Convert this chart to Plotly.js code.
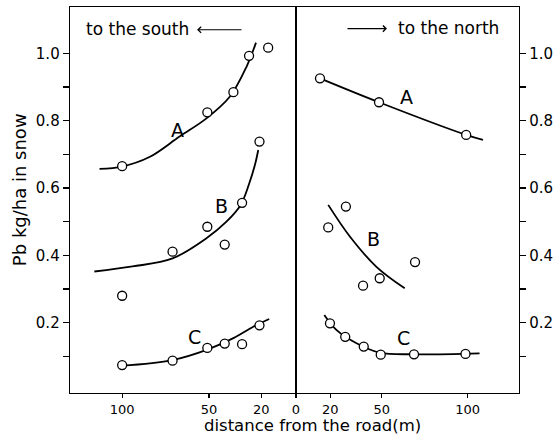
<!DOCTYPE html>
<html><head><meta charset="utf-8">
<script src="https://cdn.plot.ly/plotly-3.0.1.min.js"></script>
<style>html,body{margin:0;padding:0;background:#fff}#chart{width:554px;height:438px}</style>
</head><body><div id="chart"></div>
<script>
// ---- South side (left panel), distance in m, Pb kg/ha ----
const southA_x = [100, 51, 36, 27, 16];
const southA_y = [0.665, 0.825, 0.885, 0.993, 1.017];
const southA_fitX = [113, 100, 84, 67, 51.5, 38, 28.4, 23];
const southA_fitY = [0.657, 0.664, 0.693, 0.753, 0.807, 0.872, 0.961, 1.032];

const southB_x = [100, 71, 51, 41, 31, 21];
const southB_y = [0.280, 0.411, 0.485, 0.432, 0.556, 0.738];
const southB_fitX = [116, 94, 71, 51.5, 40, 32, 27, 23.6, 21.7];
const southB_fitY = [0.352, 0.367, 0.391, 0.451, 0.500, 0.548, 0.612, 0.669, 0.713];

const southC_x = [100, 71, 51, 41, 31, 21];
const southC_y = [0.074, 0.087, 0.125, 0.138, 0.136, 0.192];
const southC_fitX = [100.5, 71, 51, 36, 24.6, 15.4];
const southC_fitY = [0.072, 0.089, 0.120, 0.154, 0.188, 0.211];

// ---- North side (right panel) ----
const northA_x = [14, 48.4, 99.2];
const northA_y = [0.926, 0.855, 0.758];
const northA_fitX = [14, 48.4, 99.2, 109];
const northA_fitY = [0.926, 0.855, 0.758, 0.743];

const northB_x = [18.8, 29.1, 39.1, 48.8, 69.4];
const northB_y = [0.483, 0.545, 0.310, 0.332, 0.380];
const northB_fitX = [18.8, 31.4, 46.9, 63.4];
const northB_fitY = [0.550, 0.456, 0.366, 0.302];

const northC_x = [19.8, 28.7, 39.5, 49.4, 68.8, 98.8];
const northC_y = [0.198, 0.158, 0.129, 0.105, 0.106, 0.107];
const northC_fitX = [16.5, 23.7, 35.3, 48.8, 68.8, 107];
const northC_fitY = [0.223, 0.178, 0.139, 0.111, 0.106, 0.109];

// ---- Tick labels and texts ----
const southTicks = [100, 50, 20];
const northTicks = [0, 20, 50, 100];
const yTickVals = [0.2, 0.4, 0.6, 0.8, 1.0];
const yTickText = ['0.2', '0.4', '0.6', '0.8', '1.0'];
const yMinorVals = [0.1, 0.3, 0.5, 0.7, 0.9];
const curveLabels = ['A', 'B', 'C'];
const southLabelX = [68, 42.8, 58.2];
const southLabelY = [0.773, 0.547, 0.158];
const northLabelX = [64.5, 45.3, 62.8];
const northLabelY = [0.871, 0.449, 0.155];

const FONT = 'DejaVu Sans, Arial, sans-serif';

function fit(x, y, xa, ya) {
  return {x: x, y: y, xaxis: xa, yaxis: ya, mode: 'lines', type: 'scatter',
    line: {color: '#000', width: 1.8, shape: 'spline', smoothing: 1},
    hoverinfo: 'skip', showlegend: false};
}
function pts(x, y, xa, ya) {
  return {x: x, y: y, xaxis: xa, yaxis: ya, mode: 'markers', type: 'scatter',
    marker: {symbol: 'circle', size: 9, color: '#fff', line: {color: '#000', width: 1.3}},
    showlegend: false};
}

const data = [
  fit(southA_fitX, southA_fitY, 'x', 'y'), fit(southB_fitX, southB_fitY, 'x', 'y'), fit(southC_fitX, southC_fitY, 'x', 'y'),
  fit(northA_fitX, northA_fitY, 'x2', 'y2'), fit(northB_fitX, northB_fitY, 'x2', 'y2'), fit(northC_fitX, northC_fitY, 'x2', 'y2'),
  pts(southA_x, southA_y, 'x', 'y'), pts(southB_x, southB_y, 'x', 'y'), pts(southC_x, southC_y, 'x', 'y'),
  pts(northA_x, northA_y, 'x2', 'y2'), pts(northB_x, northB_y, 'x2', 'y2'), pts(northC_x, northC_y, 'x2', 'y2')
];

const axBase = {showline: true, mirror: true, linecolor: '#000', linewidth: 1.3,
  ticks: 'outside', tickcolor: '#000', tickwidth: 1.2, showgrid: false, zeroline: false,
  tickfont: {family: FONT, size: 15, color: '#000'}};

const yBase = Object.assign({}, axBase, {range: [-0.009, 1.138], tickmode: 'array',
  tickvals: yTickVals, ticktext: yTickText, ticklen: 6,
  minor: {tickmode: 'array', tickvals: yMinorVals, ticks: 'outside', ticklen: 6, tickcolor: '#000', tickwidth: 1.2}});

const ann = [];
curveLabels.forEach((t, i) => {
  ann.push({text: t, x: southLabelX[i], y: southLabelY[i], xref: 'x', yref: 'y', showarrow: false,
    font: {family: FONT, size: 19, color: '#000'}});
  ann.push({text: t, x: northLabelX[i], y: northLabelY[i], xref: 'x2', yref: 'y2', showarrow: false,
    font: {family: FONT, size: 19, color: '#000'}});
});
ann.push({text: 'to the south', x: 0.031, y: 0.943, xref: 'paper', yref: 'paper', xanchor: 'left', yanchor: 'middle',
  showarrow: false, font: {family: FONT, size: 17, color: '#000'}});
ann.push({text: '', x: 0.283, y: 0.941, xref: 'paper', yref: 'paper', showarrow: true,
  ax: 46, ay: 0, arrowhead: 4, arrowsize: 1, arrowwidth: 1.2, arrowcolor: '#000'});
ann.push({text: 'to the north', x: 0.727, y: 0.946, xref: 'paper', yref: 'paper', xanchor: 'left', yanchor: 'middle',
  showarrow: false, font: {family: FONT, size: 17, color: '#000'}});
ann.push({text: '', x: 0.706, y: 0.944, xref: 'paper', yref: 'paper', showarrow: true,
  ax: -41, ay: 0, arrowhead: 4, arrowsize: 1, arrowwidth: 1.2, arrowcolor: '#000'});
ann.push({text: 'distance from the road(m)', x: 0.54, y: -0.1148, xref: 'paper', yref: 'paper',
  xanchor: 'center', yanchor: 'bottom', showarrow: false, font: {family: FONT, size: 16.5, color: '#000'}});
ann.push({text: 'Pb kg/ha in snow', x: -0.111, y: 0.526, xref: 'paper', yref: 'paper', textangle: -90,
  xanchor: 'center', yanchor: 'middle', showarrow: false, font: {family: FONT, size: 18, color: '#000'}});

const xTickFont = {family: FONT, size: 13, color: '#000'};

const layout = {
  width: 554, height: 438,
  margin: {l: 70, r: 35, t: 7, b: 45},
  paper_bgcolor: '#fff', plot_bgcolor: '#fff',
  showlegend: false,
  xaxis: Object.assign({}, axBase, {domain: [0, 0.5033], range: [130, 0], tickmode: 'array', tickvals: southTicks, ticklen: 4, anchor: 'y', tickfont: xTickFont}),
  xaxis2: Object.assign({}, axBase, {domain: [0.5033, 1], range: [0, 130], tickmode: 'array', tickvals: northTicks, ticklen: 4, anchor: 'y2', tickfont: xTickFont}),
  yaxis: Object.assign({}, yBase, {anchor: 'x', side: 'left'}),
  yaxis2: Object.assign({}, yBase, {anchor: 'x2', side: 'right'}),
  annotations: ann
};

Plotly.newPlot('chart', data, layout, {staticPlot: true, displayModeBar: false});
</script>
</body></html>
